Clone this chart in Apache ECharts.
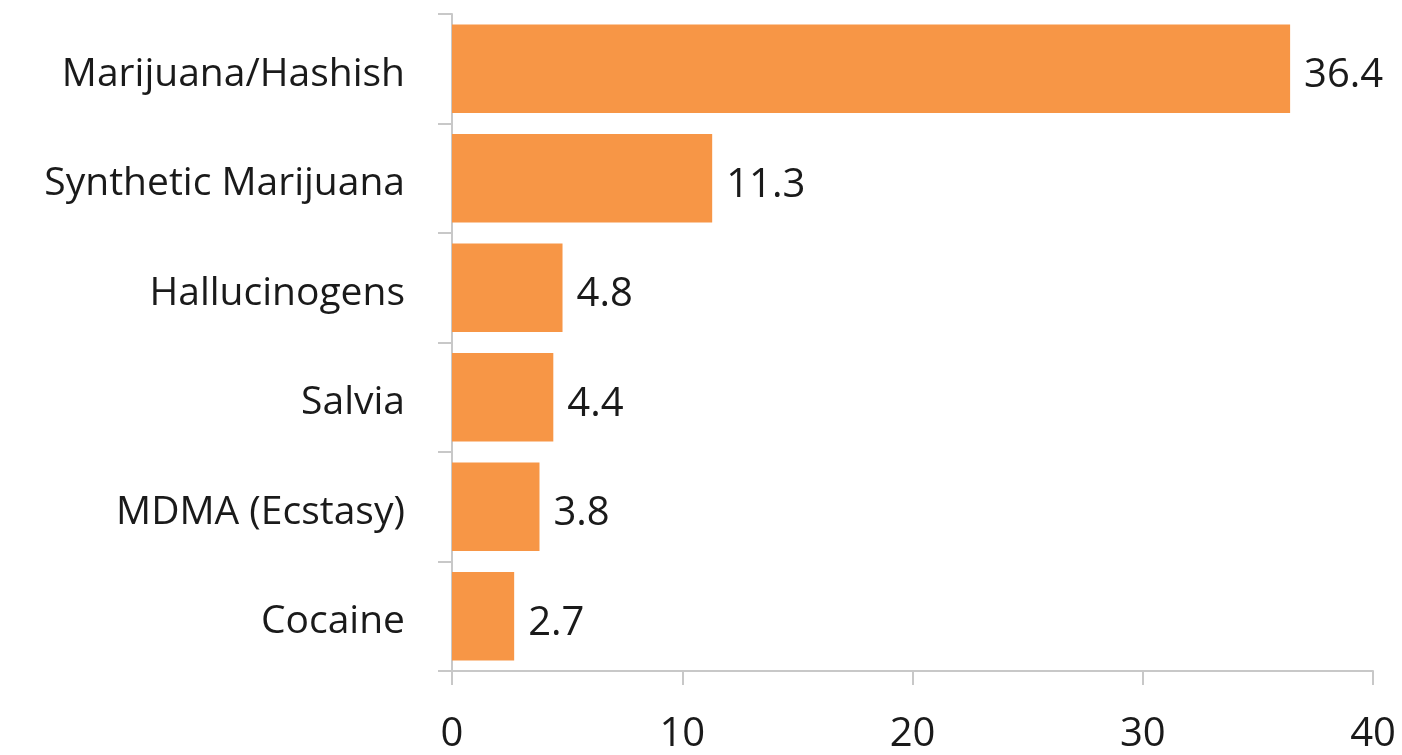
<!DOCTYPE html>
<html><head><meta charset="utf-8">
<script src="https://cdn.jsdelivr.net/npm/echarts@6/dist/echarts.min.js"></script>
<style>html,body{margin:0;padding:0;background:#fff}#c{width:1402px;height:755px}</style>
</head><body><div id="c"></div>
<script>
const categories = ["Marijuana/Hashish","Synthetic Marijuana","Hallucinogens","Salvia","MDMA (Ecstasy)","Cocaine"];
const values = [36.4, 11.3, 4.8, 4.4, 3.8, 2.7];
const xTicks = [0, 10, 20, 30, 40];

const chart = echarts.init(document.getElementById('c'));
const font = "'Open Sans', sans-serif";
chart.setOption({
  animation: false,
  grid: {left: 452, right: 29, top: 14, bottom: 81, containLabel: false},
  xAxis: {
    type: 'value', min: xTicks[0], max: xTicks[xTicks.length-1], interval: 10,
    axisLine: {show: true, lineStyle: {color: '#c8c8c8', width: 2}},
    axisTick: {show: true, length: 14, lineStyle: {color: '#c8c8c8', width: 2}},
    splitLine: {show: false},
    axisLabel: {fontFamily: font, fontSize: 40, color: '#1a1a1a', margin: 44}
  },
  yAxis: {
    type: 'category', data: categories.slice().reverse(),
    axisLine: {show: true, lineStyle: {color: '#c8c8c8', width: 2}},
    axisTick: {show: true, length: 14, lineStyle: {color: '#c8c8c8', width: 2}},
    axisLabel: {
      margin: 47,
      formatter: v => '{a|' + v + '}',
      rich: {a: {fontFamily: font, fontSize: 39, color: '#1a1a1a', padding: [12, 0, 0, 0]}}
    }
  },
  series: [{
    type: 'bar', data: values.slice().reverse(), barCategoryGap: '19%',
    itemStyle: {color: '#f79646'},
    label: {show: true, position: 'right', distance: 14, offset: [0, 7], fontFamily: font, fontSize: 40, color: '#1a1a1a'}
  }]
});
</script></body></html>
